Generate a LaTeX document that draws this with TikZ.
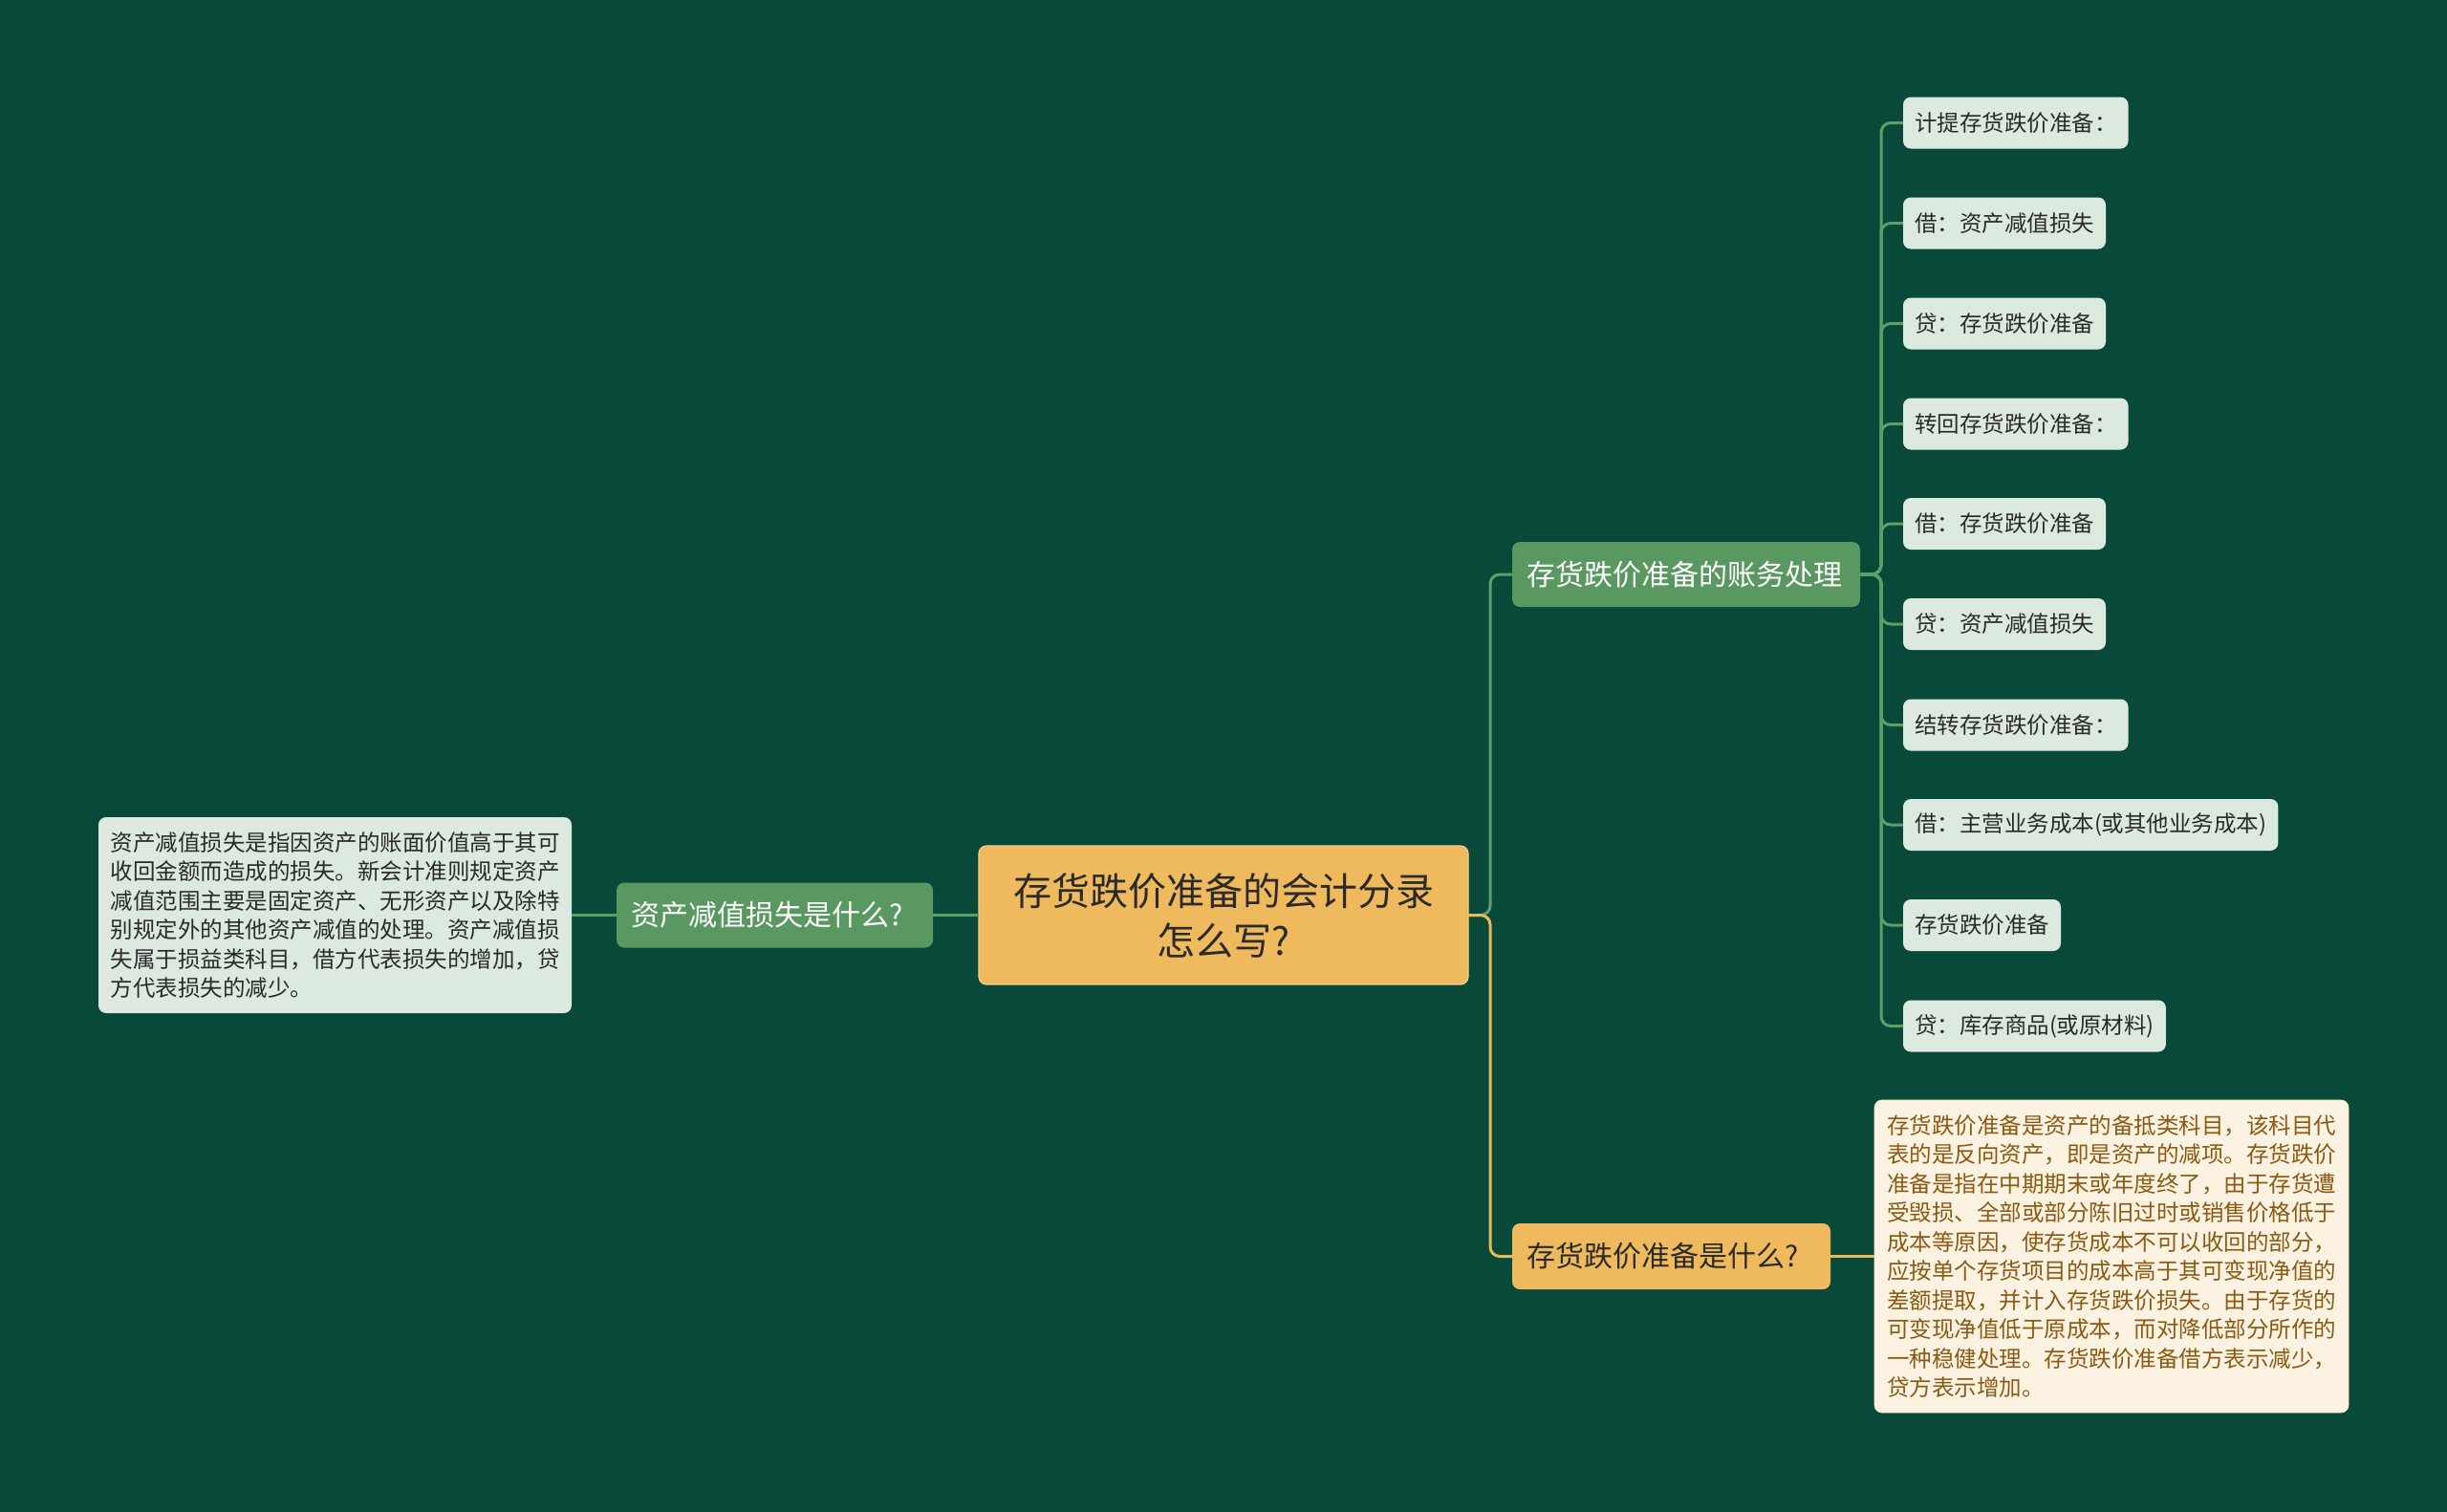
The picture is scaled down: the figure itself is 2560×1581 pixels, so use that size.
\documentclass[tikz,border=0pt]{standalone}
\usepackage{fontspec}
\setmainfont{Noto Sans CJK SC}
\usetikzlibrary{calc}
\definecolor{bgc}{HTML}{08493A}
\definecolor{gfill}{HTML}{5A9862}
\definecolor{gline}{HTML}{5E9E69}
\definecolor{leaff}{HTML}{DCE9DF}
\definecolor{goldf}{HTML}{EFBA5E}
\definecolor{goldl}{HTML}{EBB85A}
\definecolor{creamf}{HTML}{FCF2E2}
\definecolor{browntx}{HTML}{8A5A12}
\definecolor{darktx}{HTML}{2A2A2A}
\tikzset{
  box/.style={rounded corners=4pt, inner sep=0pt, outer sep=0pt},
  centralbox/.style={box, fill=goldf, draw=goldf!70!white, line width=0.6pt, text=darktx,
    font=\fontsize{20pt}{26pt}\selectfont, align=center, minimum width=256pt, minimum height=72.5pt},
  branchg/.style={box, fill=gfill, text=white, font=\fontsize{15pt}{18pt}\selectfont,
    inner xsep=7.5pt, align=left, minimum height=34pt},
  branchy/.style={box, fill=goldf, text=darktx, font=\fontsize{15pt}{18pt}\selectfont,
    inner xsep=7.5pt, align=left, minimum height=34.5pt},
  leafbox/.style={box, fill=leaff, text=darktx, font=\fontsize{11.75pt}{14pt}\selectfont,
    anchor=west, inner xsep=6pt, minimum height=27pt},
  noteg/.style={box, fill=leaff, text=darktx, font=\fontsize{11.75pt}{15.25pt}\selectfont, align=left},
  notey/.style={box, fill=creamf, draw=creamf!80!goldl, line width=0.4pt, text=browntx,
    font=\fontsize{11.75pt}{15.25pt}\selectfont, align=left},
  glink/.style={draw=gline, line width=1.5pt, rounded corners=5pt},
  ylink/.style={draw=goldl, line width=1.5pt, rounded corners=5pt}
}
\begin{document}
\begin{tikzpicture}[x=0.5pt,y=-0.5pt]
\useasboundingbox (0,0) rectangle (2560,1581);
\fill[bgc] (-2,-2) rectangle (2562,1583);

% nodes
\node[centralbox] (c) at (1280,957.5) {存货跌价准备的会计分录\\怎么写?};
\node[branchg, text width=150.5pt] (lq) at (810.5,957.5) {资产减值损失是什么?};
\node[noteg, minimum width=247.5pt, minimum height=102.5pt] (ln) at (350.5,957.5)
 {资产减值损失是指因资产的账面价值高于其可\\收回金额而造成的损失。新会计准则规定资产\\减值范围主要是固定资产、无形资产以及除特\\别规定外的其他资产减值的处理。资产减值损\\失属于损益类科目，借方代表损失的增加，贷\\方代表损失的减少。};

\node[branchg, text width=167pt] (b1) at (1764,601) {存货跌价准备的账务处理};
\node[branchy, text width=151.5pt] (b2) at (1748.5,1314.5) {存货跌价准备是什么?};
\node[notey, minimum width=248pt, minimum height=163.5pt] (bn) at (2209,1314.5)
 {存货跌价准备是资产的备抵类科目，该科目代\\表的是反向资产，即是资产的减项。存货跌价\\准备是指在中期期末或年度终了，由于存货遭\\受毁损、全部或部分陈旧过时或销售价格低于\\成本等原因，使存货成本不可以收回的部分，\\应按单个存货项目的成本高于其可变现净值的\\差额提取，并计入存货跌价损失。由于存货的\\可变现净值低于原成本，而对降低部分所作的\\一种稳健处理。存货跌价准备借方表示减少，\\贷方表示增加。};

\node[leafbox] (k1) at (1991,128.5) {计提存货跌价准备：};
\node[leafbox] (k2) at (1991,233.5) {借：资产减值损失};
\node[leafbox] (k3) at (1991,338.5) {贷：存货跌价准备};
\node[leafbox] (k4) at (1991,443.5) {转回存货跌价准备：};
\node[leafbox] (k5) at (1991,548) {借：存货跌价准备};
\node[leafbox] (k6) at (1991,653) {贷：资产减值损失};
\node[leafbox] (k7) at (1991,758.5) {结转存货跌价准备：};
\node[leafbox] (k8) at (1991,863) {借：主营业务成本(或其他业务成本)};
\node[leafbox] (k9) at (1991,968) {存货跌价准备};
\node[leafbox] (k10) at (1991,1073.5) {贷：库存商品(或原材料)};

% trunk coordinates
\coordinate (t0) at (1559,0);
\coordinate (t1) at (1968,0);

% connectors
\draw[glink] (c.west) -- (lq.east);
\draw[glink] (lq.west) -- (ln.east);
\draw[glink] (c.east) -- (c.east -| t0) |- (b1.west);
\draw[ylink] (c.east) -- (c.east -| t0) |- (b2.west);
\draw[ylink] (b2.east) -- (bn.west);
\foreach \k in {k1,k2,k3,k4,k5,k6,k7,k8,k9,k10}{
  \draw[glink] (b1.east) -- (b1.east -| t1) |- (\k.west);
}
\end{tikzpicture}
\end{document}
